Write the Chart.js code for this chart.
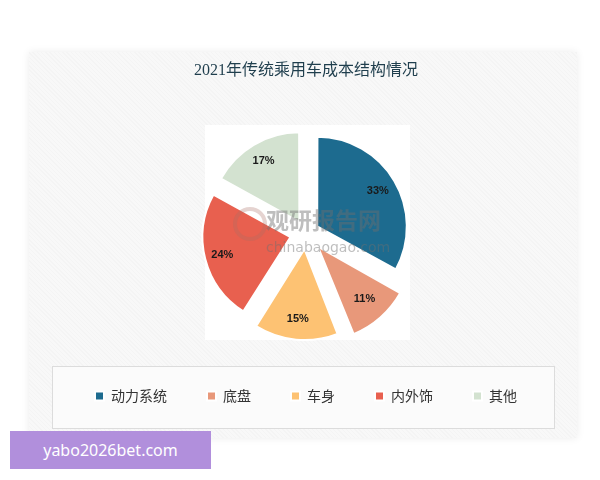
<!DOCTYPE html>
<html>
<head>
<meta charset="utf-8">
<script src="https://cdn.jsdelivr.net/npm/chart.js@4.4.0/dist/chart.umd.min.js"></script>
<style>
  body { margin: 0; width: 600px; height: 480px; background: #fff; position: relative; overflow: hidden; }
  #card { position: absolute; left: 29px; top: 52px; width: 548px; height: 386px;
          background: repeating-linear-gradient(45deg, #f8f8f8 0px, #f8f8f8 2px, #f4f4f4 2px, #f4f4f4 3px);
          box-shadow: 0 0 8px rgba(0,0,0,0.08); }
  #plotbg { position: absolute; left: 205px; top: 125px; width: 205px; height: 215px; background: #fff; }
  #legendbox { position: absolute; left: 52px; top: 366px; width: 501px; height: 61px;
               border: 1px solid #dcdcdc; background: #fbfbfb; }
  #chartWrap { position: absolute; left: 29px; top: 52px; }
  #wm { position: absolute; left: 266px; top: 202px; color: rgba(110,110,110,0.45);
        font: bold 23px 'Noto Sans CJK SC'; letter-spacing: 0px; pointer-events: none; }
  #wm2 { position: absolute; left: 266px; top: 239px; color: rgba(110,110,110,0.45);
         font: 14px 'DejaVu Sans'; pointer-events: none; }
  #wmlogo { position: absolute; left: 233px; top: 207px; width: 26px; height: 26px; border-radius: 50%;
            border: 4px solid rgba(170,110,100,0.3); pointer-events: none; }
  #tag { position: absolute; left: 10px; top: 431px; width: 201px; height: 38px; background: #b18fdc;
         color: #fff; font: 16px 'Noto Sans'; line-height: 38px; text-align: center; }
</style>
</head>
<body>
<div id="card"></div>
<div id="plotbg"></div>
<div id="legendbox"></div>
<div id="chartWrap"><canvas id="costChart" width="548" height="386"></canvas></div>
<div id="wmlogo"></div>
<div id="wm">观研报告网</div>
<div id="wm2">chinabaogao.com</div>
<div id="tag">yabo2026bet.com</div>

<script>
//  chart data (percent share of cost)
const chartTitle = '2021年传统乘用车成本结构情况';
const categories = ['动力系统', '底盘', '车身', '内外饰', '其他'];
const shares = [33, 11, 15, 24, 17];

//  slice colours and how far each slice is pulled out (px)
const sliceColors = ['#1d6b8f', '#e8987a', '#fdc273', '#e8604f', '#d3e2d0'];
const explode = [13, 18, 16, 16, 13];

//  draws the percent text on each slice
const sliceLabels = {
    id: 'sliceLabels',
    afterDatasetsDraw(chart) {
        const ctx = chart.ctx;
        const meta = chart.getDatasetMeta(0);
        ctx.save();
        ctx.font = 'bold 11px "Liberation Sans"';
        ctx.fillStyle = '#1a1a1a';
        ctx.textAlign = 'center';
        ctx.textBaseline = 'middle';
        meta.data.forEach((arc, i) => {
            const p = arc.getProps(['x', 'y', 'startAngle', 'endAngle', 'outerRadius'], true);
            const mid = (p.startAngle + p.endAngle) / 2;
            const d = explode[i] + p.outerRadius * 0.8;
            ctx.fillText(shares[i] + '%', p.x + Math.cos(mid) * d, p.y + Math.sin(mid) * d);
        });
        ctx.restore();
    }
};

const ctx = document.getElementById('costChart').getContext('2d');
window.myChart = new Chart(ctx, {
    type: 'pie',
    data: {
        labels: categories,
        datasets: [{
            data: shares,
            backgroundColor: sliceColors,
            borderColor: '#ffffff',
            borderWidth: 2,
            offset: explode.map(v => v * 4),   // v4 draws arcs with offset / 4
            hoverOffset: 0
        }]
    },
    options: {
        responsive: false,
        animation: false,
        events: [],
        radius: 88,
        layout: { padding: { left: 6, right: 0, top: 0, bottom: 25 } },
        plugins: {
            title: {
                display: true,
                text: chartTitle,
                color: '#1f3e4d',
                font: { family: "'Liberation Serif', 'Noto Sans CJK SC'", size: 16, weight: 'normal', lineHeight: 1.2 },
                padding: { top: 9, bottom: 37 }
            },
            legend: {
                position: 'bottom',
                labels: {
                    boxWidth: 9,
                    boxHeight: 9,
                    padding: 40,
                    color: '#333333',
                    font: { family: "'Noto Sans CJK SC'", size: 14 }
                }
            },
            tooltip: { enabled: false }
        }
    },
    plugins: [sliceLabels]
});
</script>
</body>
</html>
